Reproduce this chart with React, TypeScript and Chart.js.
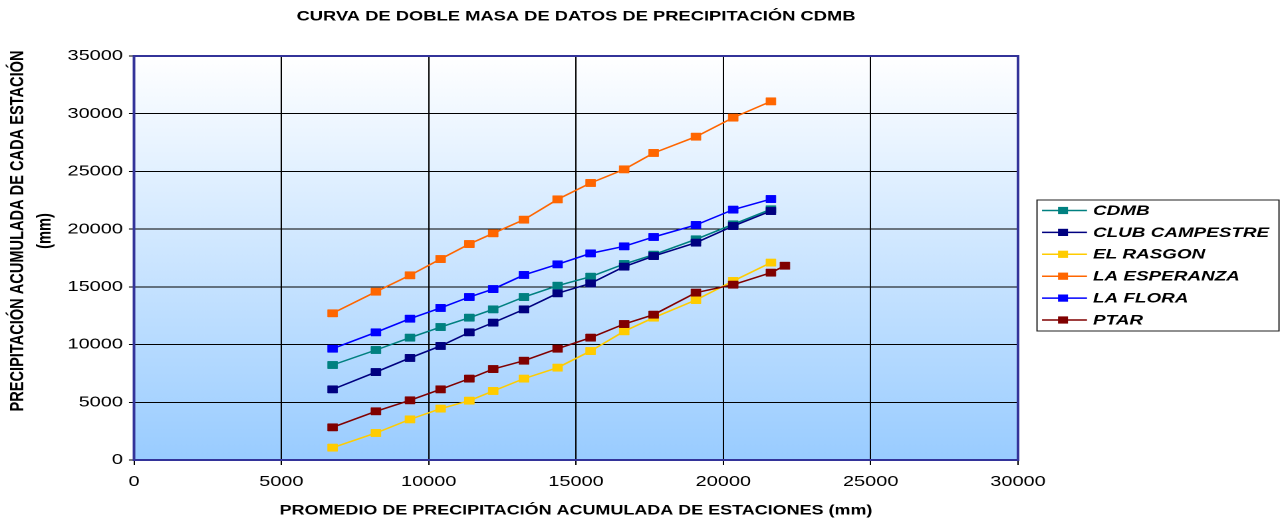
import React, { useEffect, useRef } from "react";
import { Chart, registerables } from "chart.js";

Chart.register(...registerables);

// ---- data ----
const xAvg = [6740, 8210, 9365, 10405, 11380, 12190, 13235, 14375, 15495, 16635, 17635, 19070, 20335, 21615];
const xPtar = [6740, 8210, 9365, 10405, 11380, 12190, 13235, 14375, 15495, 16635, 17635, 19070, 20335, 21615, 22090];

const cdmb = [8230, 9530, 10600, 11520, 12330, 13050, 14120, 15100, 15880, 16980, 17790, 19120, 20420, 21720];
const clubCampestre = [6120, 7620, 8840, 9880, 11060, 11900, 13050, 14440, 15300, 16750, 17670, 18830, 20270, 21570];
const elRasgon = [1070, 2340, 3520, 4450, 5140, 5980, 7050, 8000, 9440, 11150, 12330, 13860, 15510, 17100];
const laEsperanza = [12710, 14580, 16000, 17410, 18710, 19640, 20820, 22580, 24000, 25180, 26600, 28010, 29660, 31070];
const laFlora = [9640, 11060, 12240, 13170, 14120, 14810, 16030, 16950, 17900, 18510, 19320, 20360, 21690, 22610];
const ptar = [2830, 4220, 5170, 6120, 7050, 7880, 8600, 9640, 10600, 11780, 12590, 14500, 15190, 16230, 16830];

const seriesNames = ["CDMB", "CLUB CAMPESTRE", "EL RASGON", "LA ESPERANZA", "LA FLORA", "PTAR"];
const seriesColors = ["#008080", "#000080", "#FFCC00", "#FF6600", "#0000FF", "#800000"];
const seriesX = [xAvg, xAvg, xAvg, xAvg, xAvg, xPtar];
const seriesY = [cdmb, clubCampestre, elRasgon, laEsperanza, laFlora, ptar];

const chartTitle = "CURVA DE DOBLE MASA DE DATOS DE PRECIPITACIÓN CDMB";
const yTitleLines = ["PRECIPITACIÓN ACUMULADA DE CADA ESTACIÓN", "(mm)"];
const xTitle = "PROMEDIO DE PRECIPITACIÓN ACUMULADA DE ESTACIONES (mm)";

// ---- layout (canvas drawn in its own units, then widened by CSS) ----
const CSS_W = 1282;
const CSS_H = 521;
const W = 964;
const S = CSS_W / W;
const FONT = "'Liberation Sans', Arial, sans-serif";

const decorPlugin = {
  id: "decor",
  beforeDraw(chart: any) {
    const { ctx, chartArea: a } = chart;
    ctx.save();
    ctx.fillStyle = "#ffffff";
    ctx.fillRect(0, 0, chart.width, chart.height);
    const g = ctx.createLinearGradient(0, a.top, 0, a.bottom);
    g.addColorStop(0, "#ffffff");
    g.addColorStop(1, "#99ccff");
    ctx.fillStyle = g;
    ctx.fillRect(a.left, a.top, a.right - a.left, a.bottom - a.top);
    ctx.restore();
  },
  beforeDatasetsDraw(chart: any) {
    const { ctx, chartArea: a } = chart;
    ctx.save();
    ctx.strokeStyle = "#333399";
    ctx.lineWidth = 2;
    ctx.strokeRect(a.left, a.top, a.right - a.left, a.bottom - a.top);
    ctx.restore();
  },
  afterDraw(chart: any) {
    const { ctx, chartArea: a } = chart;
    ctx.save();
    ctx.fillStyle = "#000";
    // title
    ctx.font = `bold 13.8px ${FONT}`;
    ctx.textAlign = "center";
    ctx.textBaseline = "middle";
    ctx.fillText(chartTitle, (a.left + a.right) / 2, 16.5);
    // y title
    ctx.font = `bold 14.6px ${FONT}`;
    const yCenters = [18 / S, 45 / S];
    yTitleLines.forEach((t, i) => {
      ctx.save();
      ctx.translate(yCenters[i], 231);
      ctx.rotate(-Math.PI / 2);
      ctx.fillText(t, 0, 0);
      ctx.restore();
    });
    // legend
    const bx = 1037 / S;
    const bx2 = 1279 / S;
    const by = 200;
    const by2 = 331;
    ctx.fillStyle = "#ffffff";
    ctx.fillRect(bx, by, bx2 - bx, by2 - by);
    ctx.strokeStyle = "#222222";
    ctx.lineWidth = 1;
    ctx.strokeRect(bx, by, bx2 - bx, by2 - by);
    const lx1 = 1042 / S;
    const lx2 = 1087 / S;
    const mx = 1063 / S;
    const tx = 1093 / S;
    ctx.font = `italic bold 14.2px ${FONT}`;
    ctx.textAlign = "left";
    seriesNames.forEach((name, i) => {
      const y = 210.5 + i * 21.9;
      ctx.strokeStyle = seriesColors[i];
      ctx.lineWidth = 1.5;
      ctx.beginPath();
      ctx.moveTo(lx1, y);
      ctx.lineTo(lx2, y);
      ctx.stroke();
      ctx.fillStyle = seriesColors[i];
      ctx.fillRect(mx - 3.75, y - 3.6, 7.5, 7.2);
      ctx.fillStyle = "#000";
      ctx.fillText(name, tx, y + 0.5);
    });
    ctx.restore();
  },
};

export default function App() {
  const ref = useRef<HTMLCanvasElement | null>(null);

  useEffect(() => {
    if (!ref.current) return;
    const datasets = seriesNames.map((name, i) => ({
      label: name,
      data: seriesX[i].map((x, j) => ({ x, y: seriesY[i][j] })),
      borderColor: seriesColors[i],
      backgroundColor: seriesColors[i],
      pointBackgroundColor: seriesColors[i],
      pointBorderColor: seriesColors[i],
      pointBorderWidth: 0.5,
      pointStyle: "rect",
      pointRadius: 5.2,
      borderWidth: 1.5,
      tension: 0,
      fill: false,
      order: -i,
    }));

    const chart = new Chart(ref.current, {
      type: "line",
      data: { datasets },
      plugins: [decorPlugin],
      options: {
        responsive: false,
        animation: false,
        devicePixelRatio: 2,
        layout: { padding: { top: 56, right: W - 1018 / S, left: 0, bottom: 0 } },
        plugins: {
          legend: { display: false },
          title: { display: false },
          tooltip: { enabled: false },
        },
        scales: {
          x: {
            type: "linear",
            min: 0,
            max: 30000,
            ticks: {
              stepSize: 5000,
              color: "#000",
              font: { family: FONT, size: 15 },
              padding: 8,
              maxRotation: 0,
              autoSkip: false,
              callback: (v: any) => String(v),
            },
            grid: { color: "#000", lineWidth: 1, tickLength: 5, tickColor: "#000", drawTicks: true },
            border: { display: false },
            title: {
              display: true,
              text: xTitle,
              color: "#000",
              font: { family: FONT, size: 13.5, weight: "bold" },
              padding: { top: 0, bottom: 2 },
            },
            afterFit(scale: any) {
              scale.height = CSS_H - 460;
            },
          },
          y: {
            type: "linear",
            min: 0,
            max: 35000,
            ticks: {
              stepSize: 5000,
              color: "#000",
              font: { family: FONT, size: 15 },
              padding: 4.5,
              autoSkip: false,
              callback: (v: any) => String(v),
            },
            grid: { color: "#000", lineWidth: 1, tickLength: 3.8, tickColor: "#000", drawTicks: true },
            border: { display: false },
            afterFit(scale: any) {
              scale.width = 134 / S;
            },
          },
        },
      },
    } as any);
    return () => chart.destroy();
  }, []);

  return (
    <div style={{ position: "absolute", left: 0, top: 0, width: CSS_W, height: CSS_H }}>
      <canvas
        ref={ref}
        width={W}
        height={CSS_H}
        style={{ display: "block", width: CSS_W + "px", height: CSS_H + "px" }}
      />
    </div>
  );
}
